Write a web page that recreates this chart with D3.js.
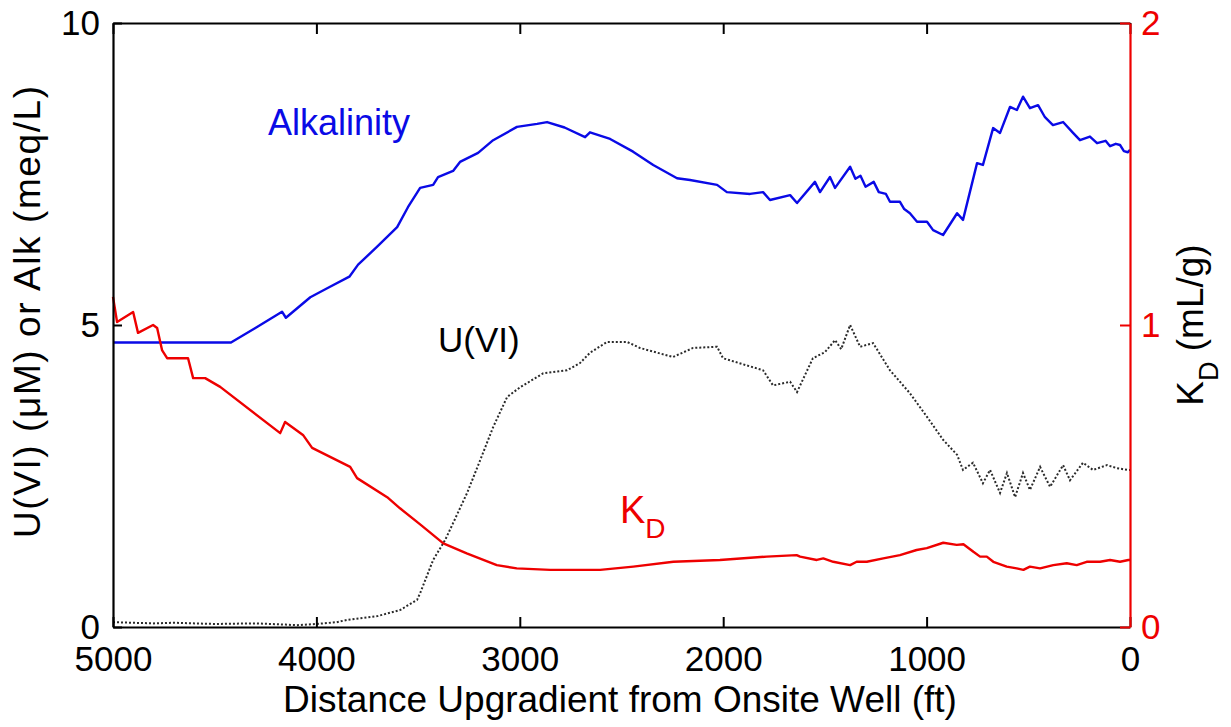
<!DOCTYPE html>
<html>
<head>
<meta charset="utf-8">
<script src="https://cdn.jsdelivr.net/npm/d3@7"></script>
<style>
  html, body { margin: 0; padding: 0; background: #fff; }
  svg { display: block; font-family: "Liberation Sans", Arial, Helvetica, sans-serif; }
</style>
</head>
<body>
<svg id="chart" width="1231" height="727"></svg>
<script>
// ---------------- DATA ----------------
const xTicks = [5000, 4000, 3000, 2000, 1000, 0];
const leftTicks = [0, 5, 10];
const rightTicks = [0, 1, 2];

// Alkalinity (meq/L) vs distance (ft)
const alkDist = [5000,4420,4300,4169,4150,4030,3940,3838,3795,3700,3603,3550,3490,3426,3402,3328,3294,3205,3131,3014,2915,2866,2780,2679,2655,2556,2443,2344,2227,2163,2030,1982,1868,1804,1770,1671,1637,1549,1524,1475,1450,1376,1350,1325,1300,1260,1235,1200,1180,1131,1110,1082,1047,998,968,919,850,821,752,723,673,639,590,556,526,492,452,418,379,329,280,246,197,162,120,98,70,49,30,10,0];
const alkVal  = [4.71,4.71,4.95,5.22,5.12,5.46,5.62,5.80,6.00,6.30,6.62,6.95,7.27,7.32,7.45,7.55,7.70,7.85,8.06,8.28,8.33,8.36,8.27,8.11,8.19,8.08,7.87,7.65,7.43,7.40,7.32,7.20,7.17,7.20,7.07,7.15,7.02,7.37,7.20,7.45,7.27,7.62,7.42,7.47,7.29,7.37,7.20,7.17,7.04,7.04,6.92,6.85,6.71,6.71,6.57,6.49,6.85,6.74,7.68,7.65,8.26,8.18,8.61,8.56,8.78,8.59,8.64,8.44,8.31,8.36,8.18,8.06,8.12,8.01,8.05,7.96,8.00,7.98,7.88,7.86,7.90];

// U(VI) (uM) vs distance (ft)
const uDist = [5000,4900,4800,4700,4500,4300,4150,4100,4000,3900,3845,3700,3589,3505,3490,3426,3367,3328,3259,3195,3131,3062,2998,2885,2768,2704,2655,2571,2473,2409,2247,2148,2030,2001,1804,1755,1671,1637,1559,1500,1450,1420,1376,1327,1263,1180,1082,998,919,850,821,772,723,688,639,605,565,526,492,442,393,329,295,231,182,113,64,10,0];
const uVal  = [0.08,0.07,0.06,0.07,0.05,0.06,0.04,0.03,0.05,0.08,0.12,0.18,0.28,0.45,0.56,1.11,1.44,1.72,2.22,2.76,3.31,3.81,3.97,4.20,4.25,4.37,4.54,4.72,4.72,4.62,4.47,4.62,4.64,4.45,4.25,4.00,4.06,3.89,4.45,4.55,4.75,4.60,5.00,4.64,4.70,4.25,3.87,3.48,3.10,2.85,2.60,2.72,2.38,2.60,2.22,2.55,2.15,2.55,2.27,2.65,2.32,2.68,2.43,2.72,2.60,2.68,2.63,2.60,2.60];

// K_D (mL/g) vs distance (ft)
const kdDist = [5000,4980,4901,4877,4803,4783,4759,4734,4631,4606,4547,4473,4178,4154,4066,4021,3834,3800,3652,3589,3490,3376,3261,3113,3015,2851,2605,2442,2245,2016,1786,1639,1622,1540,1508,1459,1376,1344,1294,1213,1131,1049,999,918,852,819,770,737,704,672,606,557,524,492,442,377,311,262,213,147,98,49,8,0];
const kdVal  = [1.093,1.01,1.043,0.974,1.0,0.99,0.917,0.89,0.89,0.824,0.824,0.795,0.642,0.679,0.636,0.593,0.53,0.493,0.43,0.393,0.34,0.277,0.244,0.205,0.194,0.189,0.189,0.2,0.216,0.222,0.233,0.238,0.233,0.222,0.227,0.216,0.205,0.216,0.216,0.227,0.238,0.255,0.261,0.279,0.272,0.274,0.249,0.233,0.233,0.216,0.2,0.194,0.189,0.2,0.194,0.205,0.211,0.205,0.216,0.216,0.222,0.216,0.222,0.222];

// ---------------- CHART ----------------
const svg = d3.select("#chart");
const L = 113, R = 1130, T = 23, B = 627;

const x = d3.scaleLinear().domain([5000, 0]).range([L, R]);
const yL = d3.scaleLinear().domain([0, 10]).range([B, T]);
const yR = d3.scaleLinear().domain([0, 2]).range([B, T]);

const BLUE = "#0a0ae6", RED = "#ee0000", BLACK = "#000";

// lines
const mk = (xs, ys) => xs.map((d, i) => [d, ys[i]]);
const lineL = d3.line().x(d => x(d[0])).y(d => yL(d[1]));
const lineR = d3.line().x(d => x(d[0])).y(d => yR(d[1]));

svg.append("path").datum(mk(uDist, uVal)).attr("d", lineL)
  .attr("fill", "none").attr("stroke", "#2a2a2a").attr("stroke-width", 2)
  .attr("stroke-dasharray", "2,2");
svg.append("path").datum(mk(alkDist, alkVal)).attr("d", lineL)
  .attr("fill", "none").attr("stroke", BLUE).attr("stroke-width", 2.4)
  .attr("stroke-linejoin", "round");
svg.append("path").datum(mk(kdDist, kdVal)).attr("d", lineR)
  .attr("fill", "none").attr("stroke", RED).attr("stroke-width", 2.4)
  .attr("stroke-linejoin", "round");

// axes
function styleAxis(g, color, fs) {
  g.selectAll("path.domain").attr("stroke", color).attr("stroke-width", 2.2);
  g.selectAll(".tick line").attr("stroke", color).attr("stroke-width", 2);
  g.selectAll(".tick text").attr("fill", color).attr("font-size", fs)
    .attr("font-family", "Liberation Sans, Arial, sans-serif");
}

const gB = svg.append("g").attr("transform", `translate(0,${B})`)
  .call(d3.axisBottom(x).tickValues(xTicks).tickFormat(d3.format("d"))
        .tickSize(-10).tickSizeOuter(0).tickPadding(19));
styleAxis(gB, BLACK, 35);

const gT = svg.append("g").attr("transform", `translate(0,${T})`)
  .call(d3.axisTop(x).tickValues(xTicks).tickFormat("")
        .tickSize(-11).tickSizeOuter(0));
styleAxis(gT, BLACK, 35);

const gL = svg.append("g").attr("transform", `translate(${L},0)`)
  .call(d3.axisLeft(yL).tickValues(leftTicks).tickFormat(d3.format("d"))
        .tickSize(-9).tickSizeOuter(0).tickPadding(13));
styleAxis(gL, BLACK, 35);

const gR = svg.append("g").attr("transform", `translate(${R},0)`)
  .call(d3.axisRight(yR).tickValues(rightTicks).tickFormat(d3.format("d"))
        .tickSize(-10).tickSizeOuter(0).tickPadding(11));
styleAxis(gR, RED, 35);

// axis titles
svg.append("text").attr("x", 620).attr("y", 712)
  .attr("text-anchor", "middle").attr("font-size", 37).attr("fill", BLACK)
  .text("Distance Upgradient from Onsite Well (ft)");

svg.append("text").attr("transform", "translate(40,312) rotate(-90)")
  .attr("text-anchor", "middle").attr("font-size", 37).attr("fill", BLACK)
  .attr("textLength", 452).attr("lengthAdjust", "spacing")
  .text("U(VI) (\u03BCM) or Alk (meq/L)");

const rt = svg.append("text").attr("transform", "translate(1203,325) rotate(-90)")
  .attr("text-anchor", "middle").attr("font-size", 37).attr("fill", BLACK);
rt.append("tspan").text("K");
rt.append("tspan").attr("font-size", 27).attr("dy", 15).text("D");
rt.append("tspan").attr("dy", -15).text(" (mL/g)");

// series annotations
svg.append("text").attr("x", 268).attr("y", 135).attr("font-size", 36)
  .attr("fill", BLUE).text("Alkalinity");
svg.append("text").attr("x", 438).attr("y", 352).attr("font-size", 35)
  .attr("fill", BLACK).text("U(VI)");
const kd = svg.append("text").attr("x", 620).attr("y", 523).attr("font-size", 38)
  .attr("fill", RED);
kd.append("tspan").text("K");
kd.append("tspan").attr("font-size", 28).attr("dy", 15).text("D");
</script>
</body>
</html>
